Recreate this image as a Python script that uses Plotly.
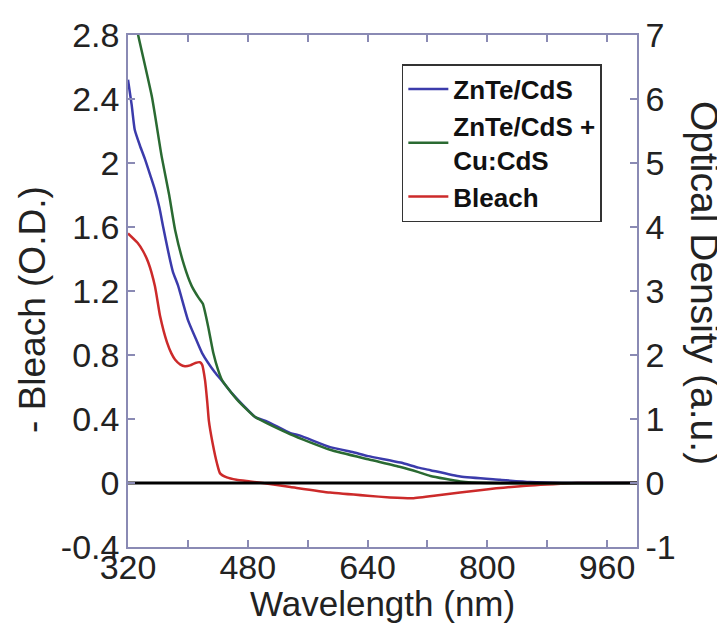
import plotly.graph_objects as go

# ---- data ----
blue_x = [320, 325, 329, 336, 343, 350, 356, 362, 367, 374, 380, 387, 400, 410, 419, 436, 446, 459, 475, 490, 506, 537, 550, 590, 621, 641, 684, 708, 724, 764, 817, 857, 900, 1000]
blue_od = [6.3, 5.9, 5.52, 5.27, 5.05, 4.8, 4.58, 4.3, 4.0, 3.6, 3.3, 3.08, 2.55, 2.27, 2.03, 1.73, 1.59, 1.4, 1.2, 1.03, 0.96, 0.78, 0.74, 0.56, 0.48, 0.42, 0.32, 0.24, 0.2, 0.1, 0.05, 0.015, 0.0, 0.0]

green_x = [320, 333, 352, 365, 375, 383, 395, 405, 414, 420, 427, 434, 440, 446, 466, 490, 537, 590, 641, 684, 708, 724, 764, 800, 1000]
green_od = [7.8, 7.03, 6.03, 5.1, 4.5, 3.95, 3.4, 3.08, 2.9, 2.8, 2.45, 2.03, 1.78, 1.6, 1.3, 1.03, 0.76, 0.52, 0.37, 0.25, 0.17, 0.11, 0.025, 0.0, 0.0]

red_x = [320, 333, 340, 347, 356, 363, 372, 378, 383, 390, 396, 403, 410, 416, 419, 423, 426, 428, 433, 439, 443, 452, 465, 483, 500, 537, 590, 640, 670, 700, 737, 790, 844, 898, 920, 1000]
red_bleach = [1.56, 1.5, 1.45, 1.38, 1.23, 1.04, 0.88, 0.81, 0.77, 0.74, 0.73, 0.735, 0.75, 0.755, 0.74, 0.64, 0.5, 0.39, 0.25, 0.12, 0.06, 0.035, 0.02, 0.01, 0.0, -0.025, -0.06, -0.08, -0.09, -0.095, -0.075, -0.045, -0.02, -0.005, 0.0, 0.0]

zero_x = [320, 1000]
zero_y = [0, 0]

x_tickvals = [320, 400, 480, 560, 640, 720, 800, 880, 960]
x_ticktext = ["320", "", "480", "", "640", "", "800", "", "960"]
y1_tickvals = [-0.4, 0, 0.4, 0.8, 1.2, 1.6, 2.0, 2.4, 2.8]
y1_ticktext = ["-0.4", "0", "0.4", "0.8", "1.2", "1.6", "2", "2.4", "2.8"]
y2_tickvals = [-1, 0, 1, 2, 3, 4, 5, 6, 7]
y2_ticktext = ["-1", "0", "1", "2", "3", "4", "5", "6", "7"]

FONT = "Liberation Sans, Arial, sans-serif"
FRAME = "#8a8ab4"

fig = go.Figure()
fig.add_trace(go.Scatter(x=blue_x, y=blue_od, yaxis="y2", mode="lines",
                         line=dict(color="#3b3bab", width=2.5, shape="spline", smoothing=0.5),
                         name="ZnTe/CdS"))
fig.add_trace(go.Scatter(x=green_x, y=green_od, yaxis="y2", mode="lines",
                         line=dict(color="#2a6a32", width=2.5, shape="spline", smoothing=0.5),
                         name="ZnTe/CdS +<br>Cu:CdS"))
fig.add_trace(go.Scatter(x=red_x, y=red_bleach, yaxis="y", mode="lines",
                         line=dict(color="#cc2a2a", width=2.5, shape="spline", smoothing=0.5),
                         name="Bleach"))
fig.add_trace(go.Scatter(x=zero_x, y=zero_y, yaxis="y2", mode="lines",
                         line=dict(color="black", width=3), showlegend=False))

fig.update_layout(
    width=717, height=619,
    margin=dict(l=120, r=88, t=27, b=80, autoexpand=False),
    paper_bgcolor="white", plot_bgcolor="white",
    font=dict(family=FONT, size=34, color="#222"),
    showlegend=True,
    legend=dict(x=0.538, y=0.943, xanchor="left", yanchor="top",
                bgcolor="white", bordercolor="#333", borderwidth=1.5,
                font=dict(family=FONT, size=26, color="#111", weight="bold"),
                tracegroupgap=0, itemwidth=40),
    xaxis=dict(range=[320, 1000], tickvals=x_tickvals, ticktext=x_ticktext,
               ticks="inside", ticklen=7, tickwidth=1.5, tickcolor=FRAME,
               showline=True, linecolor=FRAME, linewidth=1.5, mirror="ticks",
               showgrid=False, zeroline=False, tickfont=dict(size=34),
               ticklabelstandoff=-11),
    yaxis=dict(range=[-0.4, 2.8], tickvals=y1_tickvals, ticktext=y1_ticktext,
               ticks="inside", ticklen=7, tickwidth=1.5, tickcolor=FRAME,
               showline=True, linecolor=FRAME, linewidth=1.5,
               showgrid=False, zeroline=False, tickfont=dict(size=34)),
    yaxis2=dict(range=[-1, 7], tickvals=y2_tickvals, ticktext=y2_ticktext,
                overlaying="y", side="right",
                ticks="inside", ticklen=7, tickwidth=1.5, tickcolor=FRAME,
                showline=True, linecolor=FRAME, linewidth=1.5,
                showgrid=False, zeroline=False, tickfont=dict(size=34)),
    annotations=[
        dict(text="- Bleach (O.D.)", xref="paper", yref="paper", x=-0.1866, y=0.463,
             xanchor="center", yanchor="middle", textangle=-90, showarrow=False,
             font=dict(family=FONT, size=37, color="#222")),
        dict(text="Optical Density (a.u.)", xref="paper", yref="paper", x=1.1336, y=0.5156,
             xanchor="center", yanchor="middle", textangle=90, showarrow=False,
             font=dict(family=FONT, size=39, color="#222")),
        dict(text="Wavelength (nm)", xref="paper", yref="paper", x=0.5, y=-0.11,
             xanchor="center", yanchor="middle", showarrow=False,
             font=dict(family=FONT, size=35, color="#222")),
    ],
)

fig.write_html("out.html")
